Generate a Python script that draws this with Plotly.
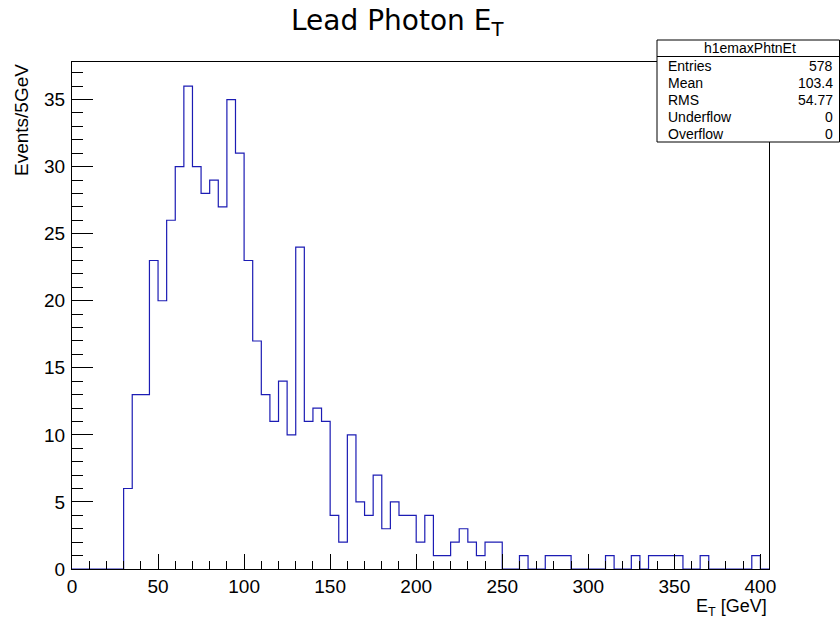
import numpy as np
import plotly.graph_objects as go

# ---- data (bin width 5 GeV, lower edge -> count) ----
bin_width = 5
x_min, x_max = 0, 405
bin_low = [30, 35, 40, 45, 50, 55, 60, 65, 70, 75, 80, 85, 90, 95, 100, 105, 110, 115,
           120, 125, 130, 135, 140, 145, 150, 155, 160, 165, 170, 175, 180, 185, 190, 195,
           200, 205, 210, 215, 220, 225, 230, 235, 240, 245, 260, 275, 280, 285, 310, 325,
           335, 340, 345, 350, 365, 395]
bin_counts = [6, 13, 13, 23, 20, 26, 30, 36, 30, 28, 29, 27, 35, 31, 23, 17, 13, 11,
              14, 10, 24, 11, 12, 11, 4, 2, 10, 5, 4, 7, 3, 5, 4, 4,
              2, 4, 1, 1, 2, 3, 2, 1, 2, 2, 1, 1, 1, 1, 1, 1,
              1, 1, 1, 1, 1, 1]

stats_labels = ["Entries", "Mean", "RMS", "Underflow", "Overflow"]
stats_values = ["578", "103.4", "54.77", "0", "0"]
hist_name = "h1emaxPhtnEt"

# full histogram array
edges = np.arange(x_min, x_max + bin_width, bin_width)
counts = np.zeros(len(edges) - 1)
for lo, c in zip(bin_low, bin_counts):
    counts[int((lo - x_min) // bin_width)] = c

xs = list(edges)
ys = list(counts) + [counts[-1]]

fig = go.Figure()
fig.add_trace(go.Scatter(x=xs, y=ys, mode="lines", line=dict(shape="hv", color="#1c1cb4", width=1.2),
                         hoverinfo="skip", showlegend=False))

FONT = "Liberation Sans, Arial, Helvetica, sans-serif"
TFONT = "DejaVu Sans, sans-serif"
ymax = 1.05 * max(bin_counts)

fig.update_layout(
    width=840, height=619,
    margin=dict(l=72, r=71, t=62, b=50),
    paper_bgcolor="white", plot_bgcolor="white",
    font=dict(family=FONT, size=19, color="black"),
    xaxis=dict(range=[x_min, x_max], showgrid=False, zeroline=False,
               showline=True, linecolor="black", linewidth=1.4, mirror=True,
               ticks="inside", ticklen=15, tickwidth=1, tickcolor="black",
               tick0=0, dtick=50, ticklabelstandoff=0,
               minor=dict(ticks="inside", ticklen=8, dtick=10, tickcolor="black", tickwidth=1),
               tickfont=dict(size=19)),
    yaxis=dict(range=[0, ymax], showgrid=False, zeroline=False,
               showline=True, linecolor="black", linewidth=1.2, mirror=True,
               ticks="inside", ticklen=21, tickwidth=1, tickcolor="black",
               tick0=0, dtick=5, ticklabelstandoff=2,
               minor=dict(ticks="inside", ticklen=11, dtick=1, tickcolor="black", tickwidth=1),
               tickfont=dict(size=19)),
)

annots = []
# title
annots.append(dict(text="Lead Photon E<sub>T</sub>", x=392 / 840, xref="paper", y=1 + (62 - 22) / 507,
                   yref="paper", xanchor="center", yanchor="middle", showarrow=False,
                   font=dict(size=28, family=TFONT)))
# axis titles
annots.append(dict(text="E<sub>T</sub> [GeV]", x=1.0, xref="paper", xanchor="right",
                   y=-(607.5 - 569) / 507, yref="paper", yanchor="middle", showarrow=False,
                   font=dict(size=18, family=FONT)))
annots.append(dict(text="Events/5GeV", x=-(72 - 21) / 697, xref="paper", xanchor="center",
                   y=1.0, yref="paper", yanchor="top", textangle=-90, showarrow=False,
                   font=dict(size=19, family=FONT)))

# stats box
def px_x(p):
    return (p - 72) / 697

def px_y(p):
    return (569 - p) / 507

shapes = [
    dict(type="rect", xref="paper", yref="paper", x0=px_x(657), x1=px_x(839.5), y0=px_y(142), y1=px_y(40),
         line=dict(color="black", width=1), fillcolor="white", layer="above"),
    dict(type="line", xref="paper", yref="paper", x0=px_x(657), x1=px_x(839.5), y0=px_y(56.5), y1=px_y(56.5),
         line=dict(color="black", width=1), layer="above"),
]
annots.append(dict(text=hist_name, x=px_x(750), xref="paper", xanchor="center", y=px_y(48.5), yref="paper",
                   yanchor="middle", showarrow=False, font=dict(size=14, family=FONT)))
for i, (lab, val) in enumerate(zip(stats_labels, stats_values)):
    yy = px_y(66 + 17 * i)
    annots.append(dict(text=lab, x=px_x(666), xref="paper", xanchor="left", y=yy, yref="paper",
                       yanchor="middle", showarrow=False, font=dict(size=14, family=FONT)))
    annots.append(dict(text=val, x=px_x(835), xref="paper", xanchor="right", y=yy, yref="paper",
                       yanchor="middle", showarrow=False, font=dict(size=14, family=FONT)))

fig.update_layout(annotations=annots, shapes=shapes)
fig.write_html("out.html")
